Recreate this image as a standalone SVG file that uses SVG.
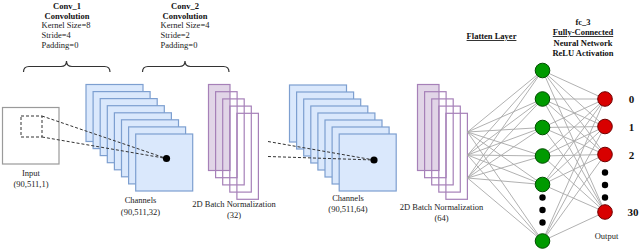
<svg xmlns="http://www.w3.org/2000/svg" width="640" height="250" viewBox="0 0 640 250">
<style>
text{font-family:"Liberation Serif","Times New Roman",serif;font-size:8.5px;fill:#222}
.b{font-weight:bold;fill:#111}
.u{text-decoration:underline}
.c{text-anchor:middle}
.blue{fill:#dae8fc;stroke:#7d9fd0;stroke-width:1.2}
.pf{fill:#e1d5e7;stroke:#a680b8;stroke-width:1.2}
.pn{fill:none;stroke:#a680b8;stroke-width:1.2}
.dash{stroke:#333;stroke-width:1;stroke-dasharray:3 2;fill:none}
.nl{stroke:#a8a8a8;stroke-width:0.9;fill:none}
.g{fill:#009a00;stroke:#004d00;stroke-width:1}
.r{fill:#d80000;stroke:#700000;stroke-width:1}
.brace{fill:none;stroke:#333;stroke-width:1.2}
.lbl{font-size:11px;font-weight:bold;fill:#111}
</style>

<g id="conv1-label">
<text class="b c" x="67" y="9">Conv_1</text>
<text class="b c" x="67" y="19">Convolution</text>
<text x="41.5" y="28">Kernel Size=8</text>
<text x="41.5" y="38">Stride=4</text>
<text x="41.5" y="48">Padding=0</text>
<path class="brace" d="M23.5,72 Q23.5,66.5 29,66.5 L61,66.5 Q66.5,66.5 66.5,61 Q66.5,66.5 72,66.5 L104.5,66.5 Q110,66.5 110,72"/>
</g>
<g id="conv2-label">
<text class="b c" x="185" y="9">Conv_2</text>
<text class="b c" x="185" y="19">Convolution</text>
<text x="160.5" y="28">Kernel Size=4</text>
<text x="160.5" y="38">Stride=2</text>
<text x="160.5" y="48">Padding=0</text>
<path class="brace" d="M142.5,72 Q142.5,66.5 148,66.5 L179.5,66.5 Q185,66.5 185,61 Q185,66.5 190.5,66.5 L223.5,66.5 Q229,66.5 229,72"/>
</g>

<g id="input">
<rect x="2.5" y="107.5" width="56.5" height="56.5" fill="#fff" stroke="#9a9a9a" stroke-width="1.2"/>
<rect class="dash" x="21" y="116" width="21" height="21"/>
<text class="c" x="31" y="176">Input</text>
<text class="c" x="31" y="187">(90,511,1)</text>
</g>

<g id="channels1">
<rect class="blue" x="86" y="84.5" width="57" height="57"/>
<rect class="blue" x="93.1" y="91.6" width="57" height="57"/>
<rect class="blue" x="100.2" y="98.6" width="57" height="57"/>
<rect class="blue" x="107.3" y="105.7" width="57" height="57"/>
<rect class="blue" x="114.4" y="112.8" width="57" height="57"/>
<rect class="blue" x="121.5" y="119.8" width="57" height="57"/>
<rect class="blue" x="128.6" y="126.9" width="57" height="57"/>
<rect class="blue" x="135.7" y="134" width="57" height="57"/>
<text class="c" x="140.5" y="203">Channels</text>
<text class="c" x="140.5" y="214.5">(90,511,32)</text>
</g>

<g id="batchnorm1">
<rect class="pf" x="208.5" y="84.5" width="21.5" height="86"/>
<rect class="pn" x="215.6" y="91.7" width="21.5" height="86"/>
<rect class="pn" x="222.7" y="98.9" width="21.5" height="86"/>
<rect class="pn" x="229.8" y="106.1" width="21.5" height="86"/>
<rect class="pn" x="236.9" y="113.3" width="21.5" height="86"/>
<text class="c" x="234" y="207">2D Batch Normalization</text>
<text class="c" x="234" y="218">(32)</text>
</g>

<g id="channels2">
<rect class="blue" x="289.5" y="85" width="57" height="57"/>
<rect class="blue" x="296.6" y="92" width="57" height="57"/>
<rect class="blue" x="303.7" y="99" width="57" height="57"/>
<rect class="blue" x="310.8" y="106" width="57" height="57"/>
<rect class="blue" x="317.9" y="113" width="57" height="57"/>
<rect class="blue" x="325" y="120" width="57" height="57"/>
<rect class="blue" x="332.1" y="127" width="57" height="57"/>
<rect class="blue" x="339.2" y="134" width="57" height="57"/>
<text class="c" x="348" y="200.5">Channels</text>
<text class="c" x="348" y="211.5">(90,511,64)</text>
</g>

<g id="batchnorm2">
<rect class="pf" x="417.5" y="84.5" width="21.5" height="86"/>
<rect class="pn" x="424.6" y="91.7" width="21.5" height="86"/>
<rect class="pn" x="431.7" y="98.9" width="21.5" height="86"/>
<rect class="pn" x="438.8" y="106.1" width="21.5" height="86"/>
<rect class="pn" x="445.9" y="113.3" width="21.5" height="86"/>
<text class="c" x="441.5" y="210">2D Batch Normalization</text>
<text class="c" x="441.5" y="221">(64)</text>
</g>

<g id="flatten-label">
<text class="b u c" x="491.5" y="39">Flatten Layer</text>
</g>
<g id="fc3-label">
<text class="b c" x="583" y="24.5">fc_3</text>
<text class="b u c" x="583" y="35">Fully-Connected</text>
<text class="b c" x="583" y="45.5">Neural Network</text>
<text class="b c" x="583" y="55.5">ReLU Activation</text>
</g>

<g id="connectors">
<line class="dash" x1="42" y1="116" x2="166.5" y2="158.5"/>
<line class="dash" x1="42" y1="137" x2="166.5" y2="158.5"/>
<line class="dash" x1="268" y1="141.5" x2="374" y2="160"/>
<line class="dash" x1="268" y1="156.5" x2="374" y2="160"/>
<g class="nl">
<path d="M467.5,132 L542.5,70.5 M467.5,132 L542.5,99 M467.5,132 L542.5,127.5 M467.5,132 L542.5,156 M467.5,132 L542.5,184.5 M467.5,132 L542.5,241"/>
<path d="M467.5,155 L542.5,70.5 M467.5,155 L542.5,99 M467.5,155 L542.5,127.5 M467.5,155 L542.5,156 M467.5,155 L542.5,184.5 M467.5,155 L542.5,241"/>
<path d="M467.5,178 L542.5,70.5 M467.5,178 L542.5,99 M467.5,178 L542.5,127.5 M467.5,178 L542.5,156 M467.5,178 L542.5,184.5 M467.5,178 L542.5,241"/>
<path d="M542.5,70.5 L605,99 M542.5,70.5 L605,126.5 M542.5,70.5 L605,154.5 M542.5,70.5 L605,212"/>
<path d="M542.5,99 L605,99 M542.5,99 L605,126.5 M542.5,99 L605,154.5 M542.5,99 L605,212"/>
<path d="M542.5,127.5 L605,99 M542.5,127.5 L605,126.5 M542.5,127.5 L605,154.5 M542.5,127.5 L605,212"/>
<path d="M542.5,156 L605,99 M542.5,156 L605,126.5 M542.5,156 L605,154.5 M542.5,156 L605,212"/>
<path d="M542.5,184.5 L605,99 M542.5,184.5 L605,126.5 M542.5,184.5 L605,154.5 M542.5,184.5 L605,212"/>
<path d="M542.5,241 L605,99 M542.5,241 L605,126.5 M542.5,241 L605,154.5 M542.5,241 L605,212"/>
</g>
</g>

<g id="kernel-points">
<circle cx="166.5" cy="158.5" r="3.6" fill="#000"/>
<circle cx="374" cy="160" r="3.6" fill="#000"/>
</g>

<g id="hidden-layer">
<circle class="g" cx="542.5" cy="70.5" r="7.3"/>
<circle class="g" cx="542.5" cy="99" r="7.3"/>
<circle class="g" cx="542.5" cy="127.5" r="7.3"/>
<circle class="g" cx="542.5" cy="156" r="7.3"/>
<circle class="g" cx="542.5" cy="184.5" r="7.3"/>
<circle cx="542.5" cy="197.5" r="3.2" fill="#000"/>
<circle cx="542.5" cy="210" r="3.2" fill="#000"/>
<circle cx="542.5" cy="222.5" r="3.2" fill="#000"/>
<circle class="g" cx="542.5" cy="241" r="7.3"/>
</g>

<g id="output-layer">
<circle class="r" cx="605" cy="99" r="7.3"/>
<circle class="r" cx="605" cy="126.5" r="7.3"/>
<circle class="r" cx="605" cy="154.5" r="7.3"/>
<circle cx="605" cy="172.5" r="3.2" fill="#000"/>
<circle cx="605" cy="185" r="3.2" fill="#000"/>
<circle cx="605" cy="197.5" r="3.2" fill="#000"/>
<circle class="r" cx="605" cy="212" r="7.3"/>
<text class="lbl c" x="631.5" y="103">0</text>
<text class="lbl c" x="631.5" y="131">1</text>
<text class="lbl c" x="631.5" y="159">2</text>
<text class="lbl c" x="633" y="216">30</text>
<text class="c" x="606.5" y="239">Output</text>
</g>
</svg>
